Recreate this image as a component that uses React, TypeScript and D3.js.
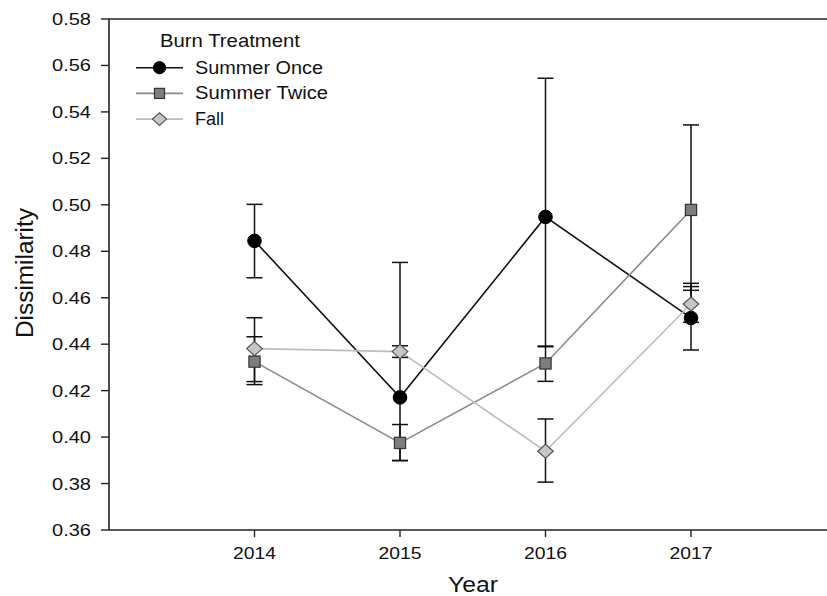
import React from "react";
import * as d3 from "d3";

// Mean dissimilarity per year and burn treatment, with error-bar bounds
const years = [2014, 2015, 2016, 2017];

const summerOnce = [0.4845, 0.4171, 0.4948, 0.4513];
const summerOnceLow = [0.4686, 0.3899, 0.4389, 0.4375];
const summerOnceHigh = [0.5002, 0.4752, 0.5545, 0.4648];

const summerTwice = [0.4325, 0.3975, 0.4317, 0.4978];
const summerTwiceLow = [0.4226, 0.3899, 0.424, 0.4632];
const summerTwiceHigh = [0.4432, 0.4054, 0.4392, 0.5344];

const fall = [0.4381, 0.4368, 0.3939, 0.4573];
const fallLow = [0.4239, 0.4343, 0.3806, 0.4494];
const fallHigh = [0.4514, 0.4393, 0.4078, 0.4662];

const yTicks = [0.36, 0.38, 0.4, 0.42, 0.44, 0.46, 0.48, 0.5, 0.52, 0.54, 0.56, 0.58];
const xTicks = [2014, 2015, 2016, 2017];

const legendTitle = "Burn Treatment";

type Series = {
  name: string;
  values: number[];
  low: number[];
  high: number[];
  symbol: "circle" | "square" | "diamond";
  lineColor: string;
  fill: string;
  stroke: string;
  textLength: number;
};

const series: Series[] = [
  { name: "Summer Once", values: summerOnce, low: summerOnceLow, high: summerOnceHigh, symbol: "circle", lineColor: "#111", fill: "#000", stroke: "#000", textLength: 128 },
  { name: "Summer Twice", values: summerTwice, low: summerTwiceLow, high: summerTwiceHigh, symbol: "square", lineColor: "#8a8a8a", fill: "#7d7d7d", stroke: "#333", textLength: 133 },
  { name: "Fall", values: fall, low: fallLow, high: fallHigh, symbol: "diamond", lineColor: "#bdbdbd", fill: "#c6c6c6", stroke: "#555", textLength: 29 },
];

const W = 827;
const H = 596;
const FONT = "'Liberation Sans', Arial, Helvetica, sans-serif";

const x = d3.scaleLinear().domain([2013, 2018]).range([109, 836.5]);
const y = d3.scaleLinear().domain([0.36, 0.58]).range([530, 19]);

function Marker({ s, cx, cy, scale = 1 }: { s: Series; cx: number; cy: number; scale?: number }) {
  if (s.symbol === "circle") {
    return <circle cx={cx} cy={cy} r={6.8 * scale} fill={s.fill} stroke={s.stroke} strokeWidth={1} />;
  }
  if (s.symbol === "square") {
    const h = 5.6 * scale;
    return <rect x={cx - h} y={cy - h} width={2 * h} height={2 * h} fill={s.fill} stroke={s.stroke} strokeWidth={1.2} />;
  }
  const hw = 7.8 * scale;
  const hh = 7 * scale;
  return (
    <path
      d={`M${cx},${cy - hh}L${cx + hw},${cy}L${cx},${cy + hh}L${cx - hw},${cy}Z`}
      fill={s.fill}
      stroke={s.stroke}
      strokeWidth={1.2}
    />
  );
}

export default function App() {
  const line = d3
    .line<number>()
    .x((_, i) => x(years[i]))
    .y((v) => y(v));

  const capHalf = 8;

  return (
    <svg
      width={W}
      height={H}
      viewBox={`0 0 ${W} ${H}`}
      style={{ position: "absolute", left: 0, top: 0, background: "#fff" }}
      fontFamily={FONT}
    >
      <rect x={0} y={0} width={W} height={H} fill="#fff" />

      {/* connecting lines */}
      {series.map((s) => (
        <path key={s.name + "-line"} d={line(s.values) || ""} fill="none" stroke={s.lineColor} strokeWidth={1.6} />
      ))}

      {/* error bars */}
      {series.map((s) =>
        years.map((yr, i) => {
          const cx = x(yr);
          const y0 = y(s.low[i]);
          const y1 = y(s.high[i]);
          return (
            <g key={s.name + "-err-" + yr} stroke="#111" strokeWidth={1.5}>
              <line x1={cx} x2={cx} y1={y0} y2={y1} />
              <line x1={cx - capHalf} x2={cx + capHalf} y1={y0} y2={y0} />
              <line x1={cx - capHalf} x2={cx + capHalf} y1={y1} y2={y1} />
            </g>
          );
        })
      )}

      {/* symbols */}
      {series.map((s) =>
        years.map((yr, i) => <Marker key={s.name + "-m-" + yr} s={s} cx={x(yr)} cy={y(s.values[i])} />)
      )}

      {/* frame */}
      <g stroke="#222" strokeWidth={1.6} fill="none">
        <line x1={109} x2={W + 20} y1={19} y2={19} />
        <line x1={109} x2={W + 20} y1={530} y2={530} />
        <line x1={109} x2={109} y1={19} y2={530} />
      </g>

      {/* y axis ticks and labels */}
      {yTicks.map((t) => (
        <g key={"yt" + t}>
          <line x1={101} x2={109} y1={y(t)} y2={y(t)} stroke="#222" strokeWidth={1.4} />
          <text
            x={91}
            y={y(t) + 6}
            textAnchor="end"
            fontSize={17}
            fill="#111"
            textLength={39}
            lengthAdjust="spacingAndGlyphs"
          >
            {d3.format(".2f")(t)}
          </text>
        </g>
      ))}

      {/* x axis ticks and labels */}
      {xTicks.map((t) => (
        <g key={"xt" + t}>
          <line x1={x(t)} x2={x(t)} y1={530} y2={537} stroke="#222" strokeWidth={1.4} />
          <text
            x={x(t)}
            y={559}
            textAnchor="middle"
            fontSize={17}
            fill="#111"
            textLength={43}
            lengthAdjust="spacingAndGlyphs"
          >
            {String(t)}
          </text>
        </g>
      ))}

      {/* axis titles */}
      <text x={473} y={591.5} textAnchor="middle" fontSize={22} fill="#111" textLength={50} lengthAdjust="spacingAndGlyphs">
        Year
      </text>
      <text
        transform="translate(32.5,273) rotate(-90)"
        textAnchor="middle"
        fontSize={23}
        fill="#111"
        textLength={130}
        lengthAdjust="spacingAndGlyphs"
      >
        Dissimilarity
      </text>

      {/* legend */}
      <text x={160} y={46.7} fontSize={19} fill="#111" textLength={140} lengthAdjust="spacingAndGlyphs">
        {legendTitle}
      </text>
      {series.map((s, i) => {
        const cy = 67.7 + i * 25.7;
        return (
          <g key={s.name + "-legend"}>
            <line x1={136} x2={183} y1={cy} y2={cy} stroke={s.lineColor} strokeWidth={1.6} />
            <Marker s={s} cx={159.5} cy={cy} scale={0.9} />
            <text
              x={195}
              y={cy + 5.8}
              fontSize={18}
              fill="#111"
              textLength={s.textLength}
              lengthAdjust="spacingAndGlyphs"
            >
              {s.name}
            </text>
          </g>
        );
      })}
    </svg>
  );
}
